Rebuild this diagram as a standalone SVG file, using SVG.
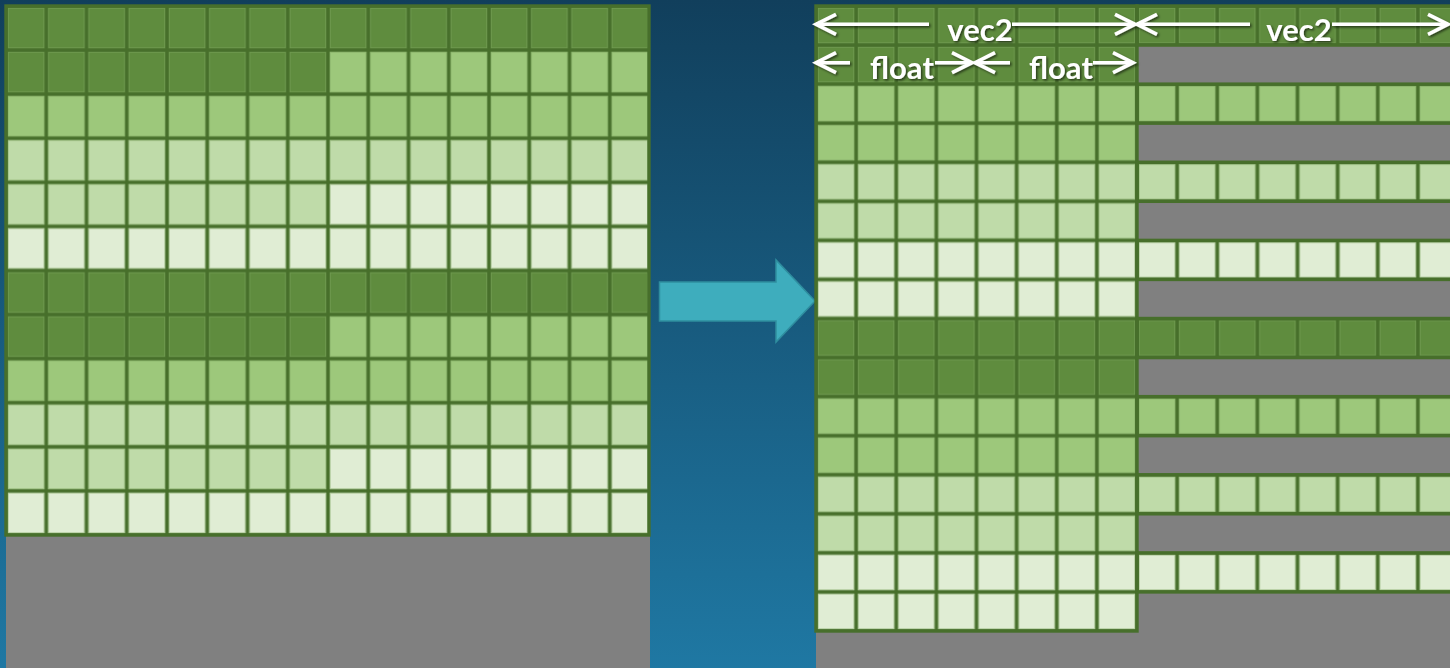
<svg xmlns="http://www.w3.org/2000/svg" width="1450" height="668" viewBox="0 0 1450 668">
<defs>
<linearGradient id="bg" x1="0" y1="0" x2="0" y2="1">
<stop offset="0" stop-color="#113f5c"/>
<stop offset="1" stop-color="#1f78a3"/>
</linearGradient>
<pattern id="gridL" patternUnits="userSpaceOnUse" x="6" y="6" width="40.25" height="44.0833">
<rect x="2.2" y="2.2" width="35.85" height="39.6833" fill="none" stroke="#80a862" stroke-opacity="0.5" stroke-width="1"/>
<rect x="0" y="0" width="40.25" height="44.0833" fill="none" stroke="#476f2b" stroke-width="3.4"/>
</pattern>
<pattern id="gridR" patternUnits="userSpaceOnUse" x="816" y="6" width="40.125" height="39.0625">
<rect x="2.2" y="2.2" width="35.725" height="34.6625" fill="none" stroke="#80a862" stroke-opacity="0.5" stroke-width="1"/>
<rect x="0" y="0" width="40.125" height="39.0625" fill="none" stroke="#476f2b" stroke-width="3.4"/>
</pattern>
<marker id="chev" markerUnits="userSpaceOnUse" markerWidth="26" markerHeight="26" refX="21" refY="12" orient="auto-start-reverse" overflow="visible">
<path d="M1,2 L21,12 L1,22" fill="none" stroke="#ffffff" stroke-width="3.6" stroke-linejoin="miter"/>
</marker>
<filter id="shadow" x="-10%" y="-30%" width="120%" height="160%">
<feDropShadow dx="1.5" dy="1.5" stdDeviation="1" flood-color="#000000" flood-opacity="0.6"/>
</filter>
</defs>
<style>
.d{fill:#5f8c3e}
.l1{fill:#9dc87b}
.l2{fill:#bfdba9}
.l3{fill:#e0edd4}
.gray{fill:#808080}
.gl{fill:url(#gridL)}
.gr{fill:url(#gridR)}
.ol{fill:none;stroke:#476f2b;stroke-width:3.4}
.lbl{font-family:Lato,"Open Sans","Liberation Sans",sans-serif;font-weight:700;font-size:31px;fill:#ffffff;text-anchor:middle}
.dim{stroke:#ffffff;stroke-width:3.6;fill:none;marker-start:url(#chev)}
.dimE{stroke:#ffffff;stroke-width:3.6;fill:none;marker-end:url(#chev)}
</style>
<rect x="0" y="0" width="1450" height="668" fill="url(#bg)"/>

<g id="left-grid">
<rect class="gray" x="6" y="6" width="644" height="662"/>
<rect class="d" x="6" y="6" width="644" height="44.0833"/>
<rect class="d" x="6" y="50.0833" width="322" height="44.0833"/>
<rect class="l1" x="328" y="50.0833" width="322" height="44.0833"/>
<rect class="l1" x="6" y="94.1667" width="644" height="44.0833"/>
<rect class="l2" x="6" y="138.25" width="644" height="44.0833"/>
<rect class="l2" x="6" y="182.3333" width="322" height="44.0833"/>
<rect class="l3" x="328" y="182.3333" width="322" height="44.0833"/>
<rect class="l3" x="6" y="226.4167" width="644" height="44.0833"/>
<rect class="d" x="6" y="270.5" width="644" height="44.0833"/>
<rect class="d" x="6" y="314.5833" width="322" height="44.0833"/>
<rect class="l1" x="328" y="314.5833" width="322" height="44.0833"/>
<rect class="l1" x="6" y="358.6667" width="644" height="44.0833"/>
<rect class="l2" x="6" y="402.75" width="644" height="44.0833"/>
<rect class="l2" x="6" y="446.8333" width="322" height="44.0833"/>
<rect class="l3" x="328" y="446.8333" width="322" height="44.0833"/>
<rect class="l3" x="6" y="490.9167" width="644" height="44.0833"/>
<rect class="gl" x="6" y="6" width="644" height="529"/>
<rect class="ol" x="6" y="6" width="643" height="529"/>
</g>

<g id="arrow">
<polygon points="659.5,282 776,282 776,260 815,301 776,342 776,321 659.5,321" fill="#3eadbd" stroke="#2f8e9f" stroke-width="1.5"/>
</g>

<g id="right-grid">
<rect class="gray" x="816" y="6" width="634" height="662"/>
<rect class="d" x="816" y="6" width="321" height="78.125"/>
<rect class="l1" x="816" y="84.125" width="321" height="78.125"/>
<rect class="l2" x="816" y="162.25" width="321" height="78.125"/>
<rect class="l3" x="816" y="240.375" width="321" height="78.125"/>
<rect class="d" x="816" y="318.5" width="321" height="78.125"/>
<rect class="l1" x="816" y="396.625" width="321" height="78.125"/>
<rect class="l2" x="816" y="474.75" width="321" height="78.125"/>
<rect class="l3" x="816" y="552.875" width="321" height="78.125"/>
<rect class="d" x="1137" y="6" width="321" height="39.0625"/>
<rect class="l1" x="1137" y="84.125" width="321" height="39.0625"/>
<rect class="l2" x="1137" y="162.25" width="321" height="39.0625"/>
<rect class="l3" x="1137" y="240.375" width="321" height="39.0625"/>
<rect class="d" x="1137" y="318.5" width="321" height="39.0625"/>
<rect class="l1" x="1137" y="396.625" width="321" height="39.0625"/>
<rect class="l2" x="1137" y="474.75" width="321" height="39.0625"/>
<rect class="l3" x="1137" y="552.875" width="321" height="39.0625"/>
<rect class="gr" x="816" y="6" width="321" height="625"/>
<rect class="gr" x="1137" y="6" width="321" height="39.0625"/>
<rect class="gr" x="1137" y="84.125" width="321" height="39.0625"/>
<rect class="gr" x="1137" y="162.25" width="321" height="39.0625"/>
<rect class="gr" x="1137" y="240.375" width="321" height="39.0625"/>
<rect class="gr" x="1137" y="318.5" width="321" height="39.0625"/>
<rect class="gr" x="1137" y="396.625" width="321" height="39.0625"/>
<rect class="gr" x="1137" y="474.75" width="321" height="39.0625"/>
<rect class="gr" x="1137" y="552.875" width="321" height="39.0625"/>
<rect class="ol" x="816" y="6" width="321" height="625"/>
<rect class="ol" x="1137" y="6" width="321" height="39.0625"/>
<rect class="ol" x="1137" y="84.125" width="321" height="39.0625"/>
<rect class="ol" x="1137" y="162.25" width="321" height="39.0625"/>
<rect class="ol" x="1137" y="240.375" width="321" height="39.0625"/>
<rect class="ol" x="1137" y="318.5" width="321" height="39.0625"/>
<rect class="ol" x="1137" y="396.625" width="321" height="39.0625"/>
<rect class="ol" x="1137" y="474.75" width="321" height="39.0625"/>
<rect class="ol" x="1137" y="552.875" width="321" height="39.0625"/>
</g>

<g id="connectors" filter="url(#shadow)">
<line class="dim" x1="816" y1="24.3" x2="929" y2="24.3"/>
<line class="dimE" x1="1012" y1="24.3" x2="1135" y2="24.3"/>
<line class="dim" x1="1137" y1="24.3" x2="1250" y2="24.3"/>
<line class="dimE" x1="1332" y1="24.3" x2="1448" y2="24.3"/>
<line class="dim" x1="816" y1="62.7" x2="850" y2="62.7"/>
<line class="dimE" x1="935" y1="62.7" x2="972" y2="62.7"/>
<line class="dim" x1="975" y1="62.7" x2="1010" y2="62.7"/>
<line class="dimE" x1="1093" y1="62.7" x2="1133" y2="62.7"/>
<text class="lbl" x="980" y="40.5">vec2</text>
<text class="lbl" x="1299" y="40.5">vec2</text>
<text class="lbl" x="902" y="79">float</text>
<text class="lbl" x="1061" y="79">float</text>
</g>
</svg>
